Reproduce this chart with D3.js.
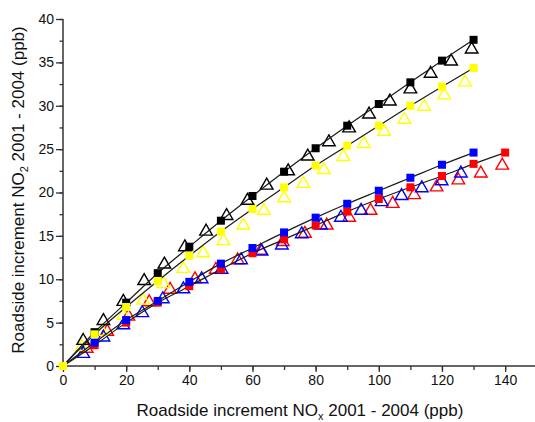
<!DOCTYPE html>
<html>
<head>
<meta charset="utf-8">
<script src="https://cdn.jsdelivr.net/npm/d3@7"></script>
<style>
html,body{margin:0;padding:0;background:#fff;}
svg{display:block;font-family:"Liberation Sans",Arial,sans-serif;}
</style>
</head>
<body>
<svg id="chart" width="535" height="422"></svg>
<script>
// ---- data ----
const xSquares = [0,10,20,30,40,50,60,70,80,90,100,110,120,130];
const xSquaresRed = [0,10,20,30,40,50,60,70,80,90,100,110,120,130,140];
const blackSquares  = [0,3.9,7.3,10.7,13.75,16.75,19.6,22.4,25.1,27.7,30.2,32.7,35.2,37.6];
const yellowSquares = [0,3.65,6.8,9.8,12.7,15.5,18.1,20.6,23.1,25.4,27.7,30.0,32.2,34.35];
const blueSquares   = [0,2.7,5.3,7.5,9.7,11.8,13.6,15.4,17.1,18.7,20.2,21.7,23.2,24.6];
const redSquares    = [0,2.4,5.0,7.3,9.2,11.15,13.0,14.6,16.2,17.8,19.25,20.6,21.9,23.3,24.6];

const blackTriX = [6.4,12.8,19.1,25.7,32.1,38.6,45.3,51.8,58.4,64.5,71.3,77.5,84.2,90.6,96.9,103.5,110,116.4,122.9,129.4];
const blackTriY = [3.1,5.4,7.6,10.0,11.9,13.9,15.7,17.5,19.25,21.0,22.65,24.35,26.0,27.6,29.2,30.7,32.1,33.9,35.3,36.7];
const yellowTriX = [5.9,12.3,19.1,25.4,31.8,38.1,44.4,50.8,57.1,63.6,70,76.1,82.6,88.8,95.3,101.7,108.1,114.4,120.7,127.3];
const yellowTriY = [2.4,4.15,6.0,7.75,9.65,11.4,13.2,14.6,16.4,18.1,19.55,21.2,22.8,24.3,25.8,27.2,28.6,30.1,31.4,32.9];
const blueTriX = [6.4,12.8,19.1,25.1,31.6,38.1,43.9,50.2,56.4,62.9,69.3,75.6,81.7,88,94.4,100.9,107.2,113.6,119.9,126];
const blueTriY = [1.6,3.5,4.9,6.3,7.9,9.05,10.2,11.3,12.4,13.4,14.1,15.4,16.4,17.3,18.1,19.1,19.8,20.7,21.5,22.4];
const redTriX = [7.5,14,20.7,27.3,33.9,41.8,48.4,55.3,62.6,69.6,76.6,83.5,90.6,97.4,104.4,111.2,118.3,125.2,132.3,139.1];
const redTriY = [2.2,4.15,5.9,7.55,9.0,10.2,11.3,12.4,13.5,14.5,15.45,16.4,17.3,18.1,18.9,19.9,20.8,21.6,22.4,23.3];

const xTickLabels = [0,20,40,60,80,100,120,140];
const yTickLabels = [0,5,10,15,20,25,30,35,40];

// ---- scales ----
const svg = d3.select("#chart");
const x = d3.scaleLinear().domain([0,150]).range([63, 63 + 150*3.158]);
const y = d3.scaleLinear().domain([0,40]).range([366, 19]);

// ---- axes ----
const axisColor = "#333";
const xMinor = d3.range(0, 150, 10);
const yMinor = d3.range(0, 40.01, 2.5);

const gx = svg.append("g").attr("transform","translate(0,366)");
gx.call(d3.axisBottom(x).tickValues(xMinor).tickSize(4).tickFormat(""));
gx.call(g=>g.select(".domain").remove());
gx.selectAll("line").attr("stroke",axisColor).attr("stroke-width",1.3);
const gx2 = svg.append("g").attr("transform","translate(0,366)");
gx2.call(d3.axisBottom(x).tickValues(xTickLabels).tickSize(6).tickPadding(3).tickFormat(d3.format("d")));
gx2.select(".domain").attr("stroke",axisColor).attr("stroke-width",1.5).attr("d","M"+x(0)+",0H535");
gx2.selectAll("line").attr("stroke",axisColor).attr("stroke-width",1.3);
gx2.selectAll("text").attr("font-size",14).attr("fill","#111").attr("font-family","Liberation Sans, Arial, sans-serif");

const gy = svg.append("g").attr("transform","translate(63,0)");
gy.call(d3.axisLeft(y).tickValues(yMinor).tickSize(3.5).tickFormat(""));
gy.call(g=>g.select(".domain").remove());
gy.selectAll("line").attr("stroke",axisColor).attr("stroke-width",1.3);
const gy2 = svg.append("g").attr("transform","translate(63,0)");
gy2.call(d3.axisLeft(y).tickValues(yTickLabels).tickSize(7).tickPadding(2).tickFormat(d3.format("d")));
gy2.select(".domain").attr("stroke",axisColor).attr("stroke-width",1.5).attr("d","M0,"+y(40)+"V"+(y(0)));
gy2.selectAll("line").attr("stroke",axisColor).attr("stroke-width",1.3);
gy2.selectAll("text").attr("font-size",14).attr("fill","#111").attr("font-family","Liberation Sans, Arial, sans-serif");

// ---- titles ----
const xt = svg.append("text").attr("x",300).attr("y",416).attr("text-anchor","middle")
  .attr("font-size",17).attr("fill","#111");
xt.append("tspan").text("Roadside increment NO");
xt.append("tspan").attr("font-size",11).attr("dy",4).text("x");
xt.append("tspan").attr("dy",-4).text(" 2001 - 2004 (ppb)");

const yt = svg.append("text").attr("transform","translate(24,190) rotate(-90)").attr("text-anchor","middle")
  .attr("font-size",17).attr("fill","#111");
yt.append("tspan").text("Roadside increment NO");
yt.append("tspan").attr("font-size",11).attr("dy",4).text("2");
yt.append("tspan").attr("dy",-4).text(" 2001 - 2004 (ppb)");

// ---- marks ----
const triPath = "M0,-5.6L6.3,5.3L-6.3,5.3Z";
const plot = svg.append("g");

function triangles(xs, ys, color){
  plot.append("g").selectAll("path").data(xs.map((v,i)=>[v,ys[i]])).join("path")
    .attr("d", triPath)
    .attr("transform", d=>`translate(${x(d[0])},${y(d[1])})`)
    .attr("fill","none").attr("stroke",color).attr("stroke-width",1.4);
}
triangles(redTriX, redTriY, "#ff0000");
triangles(blueTriX, blueTriY, "#0000ff");
triangles(yellowTriX, yellowTriY, "#ffff00");
triangles(blackTriX, blackTriY, "#000000");

const line = d3.line().x(d=>x(d[0])).y(d=>y(d[1])).curve(d3.curveMonotoneX);
function fitLine(xs, ys){
  plot.append("path").datum(xs.map((v,i)=>[v,ys[i]]))
    .attr("d", line).attr("fill","none").attr("stroke","#1a1a1a").attr("stroke-width",1.2);
}
fitLine(xSquaresRed, redSquares);
fitLine(xSquares, blueSquares);
fitLine(xSquares, blackSquares);
fitLine(xSquares, yellowSquares);

function squares(xs, ys, color){
  plot.append("g").selectAll("rect").data(xs.map((v,i)=>[v,ys[i]])).join("rect")
    .attr("x", d=>x(d[0])-4).attr("y", d=>y(d[1])-4)
    .attr("width",8).attr("height",8)
    .attr("fill",color);
}
squares(xSquaresRed, redSquares, "#ff0000");
squares(xSquares, blueSquares, "#0000ff");
squares(xSquares, blackSquares, "#000000");
squares(xSquares, yellowSquares, "#ffff00");
</script>
</body>
</html>
